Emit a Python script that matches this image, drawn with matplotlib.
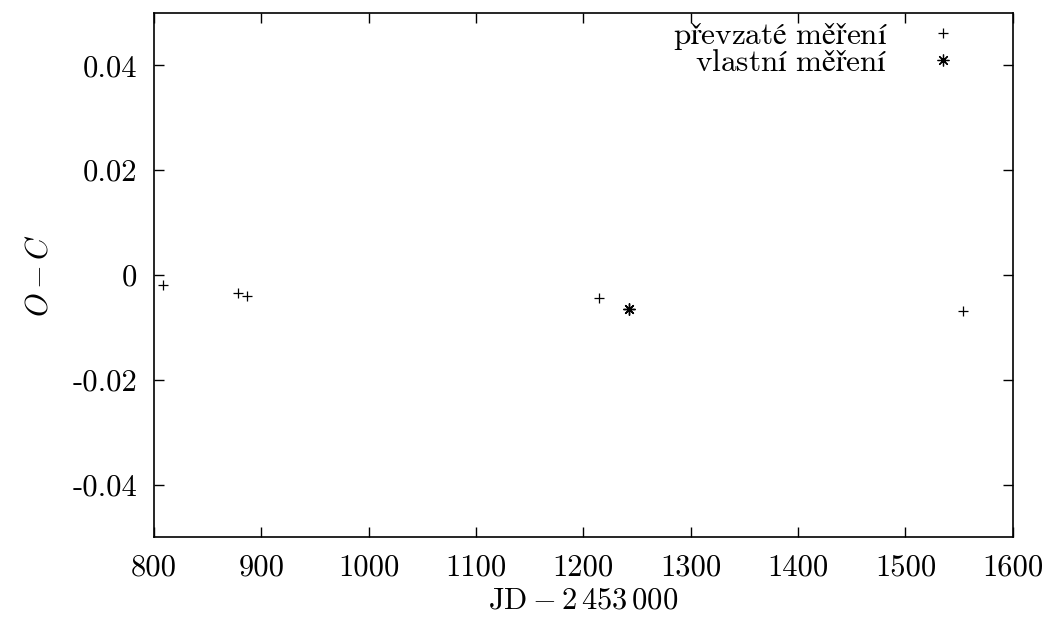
import matplotlib
matplotlib.use("Agg")
import matplotlib.pyplot as plt

plt.rcParams['font.family'] = ['cmr10', 'DejaVu Serif']
plt.rcParams['mathtext.fontset'] = 'cm'
plt.rcParams['axes.unicode_minus'] = False

# Data
taken_x = [808.1, 878.5, 886.9, 1214.4, 1553.7]
taken_y = [-0.0018, -0.0034, -0.0039, -0.0043, -0.0068]
own_x = [1242.4, 1242.6]
own_y = [-0.0064, -0.0065]

xticks = [800, 900, 1000, 1100, 1200, 1300, 1400, 1500, 1600]
yticks = [-0.04, -0.02, 0, 0.02, 0.04]
ytick_labels = ['-0.04', '-0.02', '0', '0.02', '0.04']
legend_labels = [r'$\mathrm{převzaté\ měření}$', r'$\mathrm{vlastní\ měření}$']

fig = plt.figure(figsize=(10.55, 6.21), dpi=100)
ax = fig.add_axes([0.146, 0.135, 0.814, 0.844])

ax.plot(taken_x, taken_y, linestyle='none', marker='+', markersize=7.5,
        markeredgewidth=0.9, color='black', label=legend_labels[0])
ax.plot(own_x, own_y, linestyle='none', marker=(8, 2, 0), markersize=8.5,
        markeredgewidth=0.9, color='black', label=legend_labels[1])

ax.set_xlim(800, 1600)
ax.set_ylim(-0.05, 0.05)
ax.set_xticks(xticks)
ax.set_xticklabels([str(t) for t in xticks])
ax.set_yticks(yticks)
ax.set_yticklabels(ytick_labels)
ax.tick_params(direction='in', top=True, right=True, length=7, width=1.0,
               labelsize=22, pad=12)
for s in ax.spines.values():
    s.set_linewidth(1.2)

ax.set_xlabel(r'$\mathrm{JD} - 2\,453\,000$', fontsize=22, labelpad=4)
ax.set_ylabel(r'$O - C$', fontsize=22, labelpad=14)

leg = ax.legend(loc='upper right', markerfirst=False, frameon=False,
                fontsize=22.5, handlelength=1.0, handletextpad=1.25,
                labelspacing=-0.08, borderaxespad=0.0,
                bbox_to_anchor=(0.951, 1.009))

fig.savefig('out.png', dpi=100)
